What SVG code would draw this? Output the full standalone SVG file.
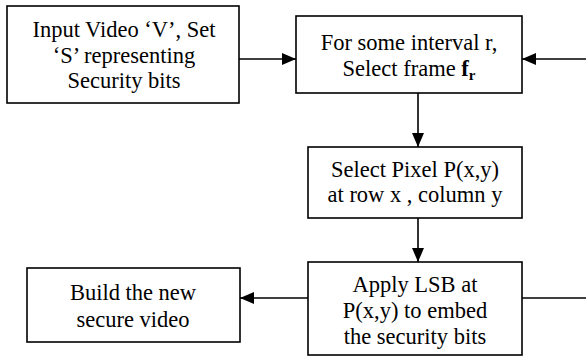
<svg xmlns="http://www.w3.org/2000/svg" width="586" height="357" viewBox="0 0 586 357">
  <defs>
    <marker id="arrow" viewBox="0 0 14 12" refX="14" refY="6" markerWidth="14" markerHeight="12" markerUnits="userSpaceOnUse" orient="auto">
      <path d="M0,0 L14,6 L0,12 Z" fill="#000"/>
    </marker>
  </defs>
  <style>
    .box { fill: #fff; stroke: #000; stroke-width: 1.6; }
    .lbl { font-family: "Liberation Serif", "Times New Roman", serif; font-size: 22.5px; fill: #000; text-anchor: middle; }
    .edge { stroke: #000; stroke-width: 1.6; fill: none; }
  </style>
  <rect width="586" height="357" fill="#fff"/>

  <g id="connectors">
    <line class="edge" x1="239" y1="59" x2="296" y2="59" marker-end="url(#arrow)"/>
    <line class="edge" x1="586" y1="59" x2="522" y2="59" marker-end="url(#arrow)"/>
    <line class="edge" x1="418" y1="93" x2="418" y2="147" marker-end="url(#arrow)"/>
    <line class="edge" x1="418" y1="218" x2="418" y2="262" marker-end="url(#arrow)"/>
    <line class="edge" x1="308" y1="298" x2="240" y2="298" marker-end="url(#arrow)"/>
    <line class="edge" x1="522" y1="298" x2="586" y2="298"/>
  </g>

  <g id="input">
    <rect class="box" x="7" y="6" width="232" height="97"/>
    <text class="lbl" x="124" y="37">Input Video ‘V’, Set</text>
    <text class="lbl" x="124" y="63">‘S’ representing</text>
    <text class="lbl" x="124" y="88">Security bits</text>
  </g>

  <g id="select-frame">
    <rect class="box" x="296" y="16" width="226" height="77"/>
    <text class="lbl" x="409" y="50">For some interval r,</text>
    <text class="lbl" x="409" y="76">Select frame <tspan font-weight="bold">f</tspan><tspan font-weight="bold" font-size="15" dy="4">r</tspan></text>
  </g>

  <g id="select-pixel">
    <rect class="box" x="308" y="147" width="214" height="71"/>
    <text class="lbl" x="415" y="177">Select Pixel P(x,y)</text>
    <text class="lbl" x="415" y="202">at row x , column y</text>
  </g>

  <g id="apply-lsb">
    <rect class="box" x="308" y="262" width="214" height="93"/>
    <text class="lbl" x="415" y="292">Apply LSB at</text>
    <text class="lbl" x="415" y="318">P(x,y) to embed</text>
    <text class="lbl" x="415" y="344">the security bits</text>
  </g>

  <g id="build-video">
    <rect class="box" x="27" y="268" width="213" height="74"/>
    <text class="lbl" x="133" y="300">Build the new</text>
    <text class="lbl" x="133" y="327">secure video</text>
  </g>
</svg>
